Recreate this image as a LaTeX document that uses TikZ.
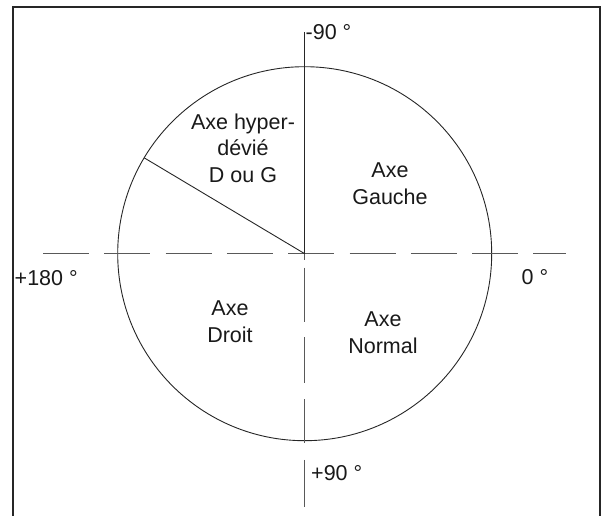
\documentclass[tikz,border=0pt]{standalone}
\usepackage{fontspec}
\setmainfont{Liberation Sans}
\begin{document}
\begin{tikzpicture}[x=1pt,y=-1pt,
  lbl/.style={inner sep=0pt, font=\fontsize{21.5}{26.5}\selectfont, text=black!90},
  zone/.style={lbl, anchor=base, align=center},
  axis/.style={draw=black!65, line width=1.3pt},
  thin line/.style={draw=black!85, line width=0.9pt}]
\useasboundingbox (0,0) rectangle (605,516);
% frame (bottom edge cut off)
\draw[line width=2pt, draw=black!85] (12.5,516) -- (12.5,7.5) -- (600,7.5) -- (600,516);
% centre and circle
\coordinate (O) at (304.7,253.7);
\draw[thin line] (O) circle[radius=187];
% horizontal dashed axis
\coordinate (hl) at (43,253.7);
\coordinate (hr) at (566,253.7);
\draw[axis, dash pattern=on 46pt off 15.3pt] (hl) -- (hr);
% vertical axis: solid upper part, dashed lower part
\coordinate (vt) at (304.7,32);
\coordinate (vb) at (304.7,507);
\draw[thin line] (vt) -- (O);
\draw[axis, dash pattern=on 6pt off 8pt on 54pt off 15.5pt on 46pt off 16pt on 44pt off 16.7pt on 47pt off 20pt] (O) -- (vb);
% radial line
\coordinate (R) at (144,157.7);
\draw[thin line] (O) -- (R);
% angle labels
\node[lbl, anchor=base west] (m90) at (305.5,40) {-90 °};
\node[lbl, anchor=base west] (p180) at (14.5,285) {+180 °};
\node[lbl, anchor=base west] (z0) at (521.5,284) {0 °};
\node[lbl, anchor=base west] (p90) at (311,480) {+90 °};
% zone labels (base = baseline of the last line)
\node[zone] (hyper) at (243,182.3) {Axe hyper-\\dévié\\D ou G};
\node[zone] (gauche) at (390,204) {Axe\\Gauche};
\node[zone] (droit) at (230,342.3) {Axe\\Droit};
\node[zone] (normal) at (383,353.3) {Axe\\Normal};
\end{tikzpicture}
\end{document}
